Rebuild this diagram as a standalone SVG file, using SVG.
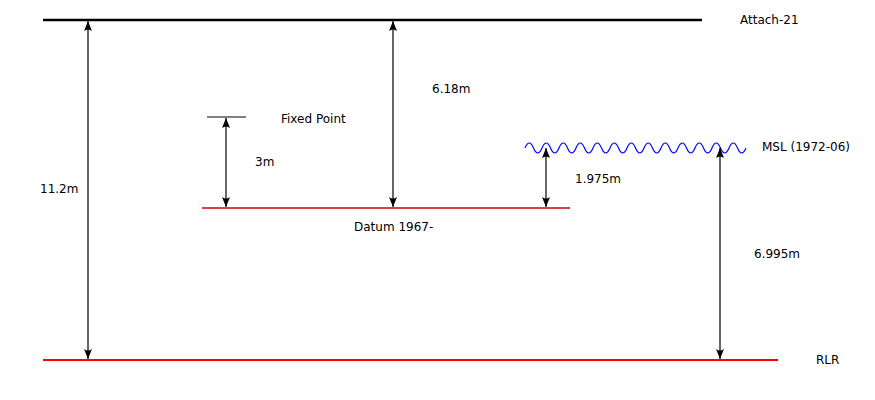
<svg xmlns="http://www.w3.org/2000/svg" width="875" height="400" viewBox="0 0 875 400">
<defs>
<marker id="ah" viewBox="0 0 10 10" refX="10" refY="5" markerWidth="10" markerHeight="10" markerUnits="userSpaceOnUse" orient="auto-start-reverse">
<path d="M10,5 L0,1 Q3,5 0,9 Z" fill="#000"/>
</marker>
<style>
text{font-family:"DejaVu Sans",sans-serif;font-size:12px;fill:#000}
.dim{stroke:#000;stroke-width:1.2;fill:none;marker-start:url(#ah);marker-end:url(#ah)}
</style>
</defs>
<rect width="875" height="400" fill="#fff"/>
<g id="attach">
<line x1="43" y1="20" x2="702" y2="20" stroke="#000" stroke-width="2.5"/>
<text x="740" y="24">Attach-21</text>
</g>
<g id="rlr">
<line x1="43" y1="360" x2="778" y2="360" stroke="#f00" stroke-width="2"/>
<text x="816" y="364">RLR</text>
</g>
<g id="datum">
<line x1="202" y1="208" x2="570" y2="208" stroke="#c00" stroke-width="1.3"/>
<text x="354" y="231">Datum 1967-</text>
</g>
<g id="fixed">
<line x1="207" y1="117" x2="246" y2="117" stroke="#000" stroke-width="1"/>
<text x="281" y="123">Fixed Point</text>
</g>
<g id="msl">
<path d="M525,148 q4.25,-10 8.5,0 t8.5,0 t8.5,0 t8.5,0 t8.5,0 t8.5,0 t8.5,0 t8.5,0 t8.5,0 t8.5,0 t8.5,0 t8.5,0 t8.5,0 t8.5,0 t8.5,0 t8.5,0 t8.5,0 t8.5,0 t8.5,0 t8.5,0 t8.5,0 t8.5,0 t8.5,0 t8.5,0 t8.5,0 t8.5,0" fill="none" stroke="#00f" stroke-width="1.2"/>
<text x="762" y="151">MSL (1972-06)</text>
</g>
<g id="connectors">
<line class="dim" x1="88" y1="21" x2="88" y2="359"/>
<line class="dim" x1="393" y1="21" x2="393" y2="207"/>
<line class="dim" x1="226" y1="118" x2="226" y2="207"/>
<line class="dim" x1="546" y1="148" x2="546" y2="207"/>
<line class="dim" x1="720" y1="148" x2="720" y2="359"/>
</g>
<g id="labels">
<text x="40" y="193">11.2m</text>
<text x="432" y="93">6.18m</text>
<text x="255" y="166">3m</text>
<text x="575" y="183">1.975m</text>
<text x="754" y="258">6.995m</text>
</g>
</svg>
